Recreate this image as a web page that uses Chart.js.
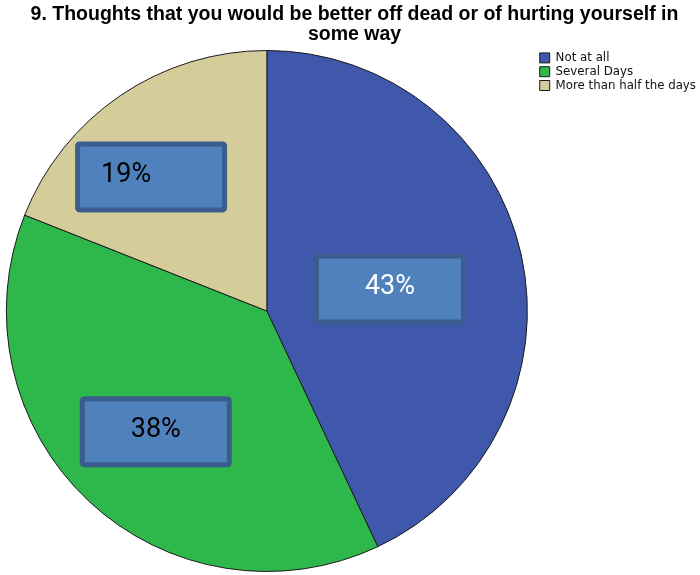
<!DOCTYPE html>
<html>
<head>
<meta charset="utf-8">
<script src="https://cdn.jsdelivr.net/npm/chart.js@4/dist/chart.umd.min.js"></script>
<style>
html, body { margin: 0; padding: 0; background: #ffffff; }
#wrap { width: 700px; height: 575px; }
</style>
</head>
<body>
<div id="wrap"><canvas id="c" width="700" height="575"></canvas></div>
<script>
const titleLines = ['9. Thoughts that you would be better off dead or of hurting yourself in', 'some way'];
const categories = ['Not at all', 'Several Days', 'More than half the days'];
const percentages = [43, 38, 19];
const sliceColors = ['#3F58AB', '#2EB84B', '#D4CD9A'];
const labelRadius = [0.48, 0.63, 0.68];
const labelAngleShift = [2.5, -0.6, -6.6];
const labelTextShift = [0, 0, -25];
const labelTextColors = ['#ffffff', '#000000', '#000000'];

const labelBoxes = {
  id: 'labelBoxes',
  afterLayout(chart) {
    if (chart.titleBlock) { chart.titleBlock.left += 3.5; chart.titleBlock.right += 3.5; }
    if (chart.legend) { chart.legend.left += 4; chart.legend.right += 4; }
  },
  afterDatasetsDraw(chart) {
    const ctx = chart.ctx;
    const meta = chart.getDatasetMeta(0);
    meta.data.forEach((arc, i) => {
      const p = arc.getProps(['x', 'y', 'startAngle', 'endAngle', 'outerRadius'], true);
      const mid = (p.startAngle + p.endAngle) / 2 + labelAngleShift[i] * Math.PI / 180;
      const r = p.outerRadius * labelRadius[i];
      const cx = p.x + Math.cos(mid) * r;
      const cy = p.y + Math.sin(mid) * r;
      const w = 147, h = 66;
      ctx.save();
      ctx.beginPath();
      if (ctx.roundRect) { ctx.roundRect(cx - w / 2, cy - h / 2, w, h, 2); }
      else { ctx.rect(cx - w / 2, cy - h / 2, w, h); }
      ctx.fillStyle = '#4F81BD';
      ctx.fill();
      ctx.lineWidth = 5;
      ctx.strokeStyle = '#3A5D8E';
      ctx.stroke();
      ctx.font = '27px Roboto';
      ctx.fillStyle = labelTextColors[i];
      ctx.textAlign = 'center';
      ctx.textBaseline = 'middle';
      ctx.fillText(percentages[i] + '%', cx + labelTextShift[i], cy - 1.5);
      ctx.restore();
    });
  }
};

new Chart(document.getElementById('c'), {
  type: 'pie',
  data: {
    labels: categories,
    datasets: [{
      data: percentages,
      backgroundColor: sliceColors,
      borderColor: '#1a1a1a',
      borderWidth: 1,
      hoverOffset: 0
    }]
  },
  options: {
    responsive: false,
    animation: false,
    devicePixelRatio: 1,
    layout: { padding: { left: 0, right: -2, top: 0, bottom: 3 } },
    plugins: {
      title: {
        display: true,
        text: titleLines,
        color: '#000000',
        font: { family: "'Liberation Sans', Arial, sans-serif", size: 19.5, weight: 'bold', lineHeight: 20 / 19.5 },
        padding: { top: 5, bottom: 5 }
      },
      legend: {
        display: true,
        position: 'right',
        align: 'start',
        fullSize: false,
        labels: {
          boxWidth: 10,
          boxHeight: 10,
          padding: 2,
          color: '#111111',
          font: { family: "'DejaVu Sans', sans-serif", size: 11.8 }
        }
      },
      tooltip: { enabled: false }
    }
  },
  plugins: [labelBoxes]
});
</script>
</body>
</html>
